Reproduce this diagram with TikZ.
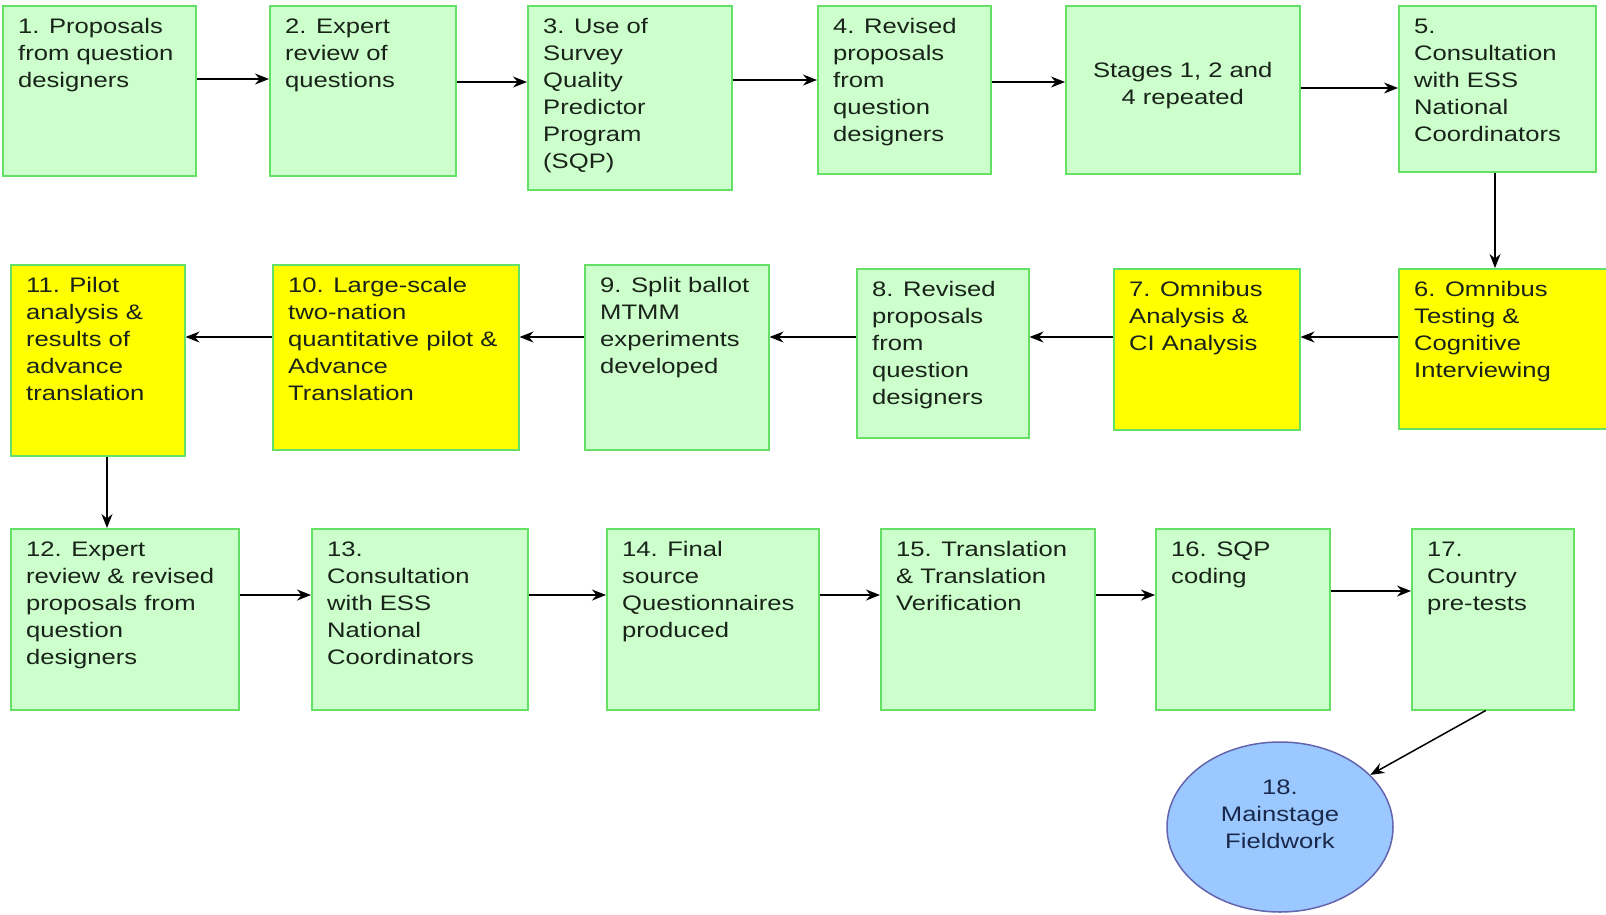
\documentclass[tikz,border=0pt]{standalone}
\usepackage{fontspec}
\setmainfont{Liberation Sans}[FakeStretch=1.22]
\usetikzlibrary{shapes.geometric,arrows.meta}
\definecolor{gfill}{RGB}{204,255,204}
\definecolor{gline}{RGB}{100,225,100}
\definecolor{yfill}{RGB}{255,255,0}
\definecolor{bfill}{RGB}{155,200,255}
\definecolor{bline}{RGB}{100,100,175}
\definecolor{txt}{RGB}{25,35,25}
\definecolor{btxt}{RGB}{25,40,75}
\newcommand\pbox[7]{\node[#6, anchor=north west, minimum width=#4pt-#2pt, minimum height=#5pt-#3pt, label={[lbl]north west:{#7}}] (#1) at (#2,#3) {};}
\begin{document}
\begin{tikzpicture}[x=1pt,y=-1pt,
  gbox/.style={draw=gline, line width=1.5pt, fill=gfill, inner sep=0pt},
  ybox/.style={draw=gline, line width=1.5pt, fill=yfill, inner sep=0pt},
  lbl/.style={anchor=north west, align=left, inner xsep=16pt, inner ysep=13.5pt, text=txt, font=\fontsize{21}{27}\selectfont},
  arr/.style={line width=1.5pt, black, -{Stealth[length=14pt,width=11pt]}}]
\useasboundingbox (0,0) rectangle (1606,914);
% row 1
\pbox{n1}{2}{5}{195}{175}{gbox}{1. Proposals\\from question\\designers}
\pbox{n2}{269}{5}{455}{175}{gbox}{2. Expert\\review of\\questions}
\pbox{n3}{527}{5}{731}{189}{gbox}{3. Use of\\Survey\\Quality\\Predictor\\Program\\(SQP)}
\pbox{n4}{817}{5}{990}{173}{gbox}{4. Revised\\proposals\\from\\question\\designers}
\node[gbox, anchor=north west, minimum width=234pt, minimum height=168pt,
  label={[text=txt, align=center, font=\fontsize{21}{27}\selectfont, yshift=4pt]center:{Stages 1, 2 and\\4 repeated}}] (ns) at (1065,5) {};
\pbox{n5}{1398}{5}{1595}{171}{gbox}{5.\\Consultation\\with ESS\\National\\Coordinators}
% row 2
\pbox{n11}{10}{264}{184}{455}{ybox}{11. Pilot\\analysis \&\\results of\\advance\\translation}
\pbox{n10}{272}{264}{518}{449}{ybox}{10. Large-scale\\two-nation\\quantitative pilot \&\\Advance\\Translation}
\pbox{n9}{584}{264}{768}{449}{gbox}{9. Split ballot\\MTMM\\experiments\\developed}
\pbox{n8}{856}{268}{1028}{437}{gbox}{8. Revised\\proposals\\from\\question\\designers}
\pbox{n7}{1113}{268}{1299}{429}{ybox}{7. Omnibus\\Analysis \&\\CI Analysis}
\pbox{n6}{1398}{268}{1606}{428}{ybox}{6. Omnibus\\Testing \&\\Cognitive\\Interviewing}
% row 3
\pbox{n12}{10}{528}{238}{709}{gbox}{12. Expert\\review \& revised\\proposals from\\question\\designers}
\pbox{n13}{311}{528}{527}{709}{gbox}{13.\\Consultation\\with ESS\\National\\Coordinators}
\pbox{n14}{606}{528}{818}{709}{gbox}{14. Final\\source\\Questionnaires\\produced}
\pbox{n15}{880}{528}{1094}{709}{gbox}{15. Translation\\\& Translation\\Verification}
\pbox{n16}{1155}{528}{1329}{709}{gbox}{16. SQP\\coding}
\pbox{n17}{1411}{528}{1573}{709}{gbox}{17.\\Country\\pre-tests}
\node[ellipse, draw=bline, line width=1.5pt, fill=bfill, minimum width=226pt, minimum height=170pt,
  label={[text=btxt, align=center, font=\fontsize{21}{27}\selectfont, yshift=13pt]center:{18.\\Mainstage\\Fieldwork}}] (n18) at (1280,827) {};
% arrows row 1
\draw[arr] (n1.east |- 0,79) -- (n2.west |- 0,79);
\draw[arr] (n2.east |- 0,82) -- (n3.west |- 0,82);
\draw[arr] (n3.east |- 0,80) -- (n4.west |- 0,80);
\draw[arr] (n4.east |- 0,82) -- (ns.west |- 0,82);
\draw[arr] (ns.east |- 0,88) -- (n5.west |- 0,88);
\draw[arr] (n5.south -| 1495,0) -- (n6.north -| 1495,0);
% arrows row 2
\draw[arr] (n6.west |- 0,337) -- (n7.east |- 0,337);
\draw[arr] (n7.west |- 0,337) -- (n8.east |- 0,337);
\draw[arr] (n8.west |- 0,337) -- (n9.east |- 0,337);
\draw[arr] (n9.west |- 0,337) -- (n10.east |- 0,337);
\draw[arr] (n10.west |- 0,337) -- (n11.east |- 0,337);
\draw[arr] (n11.south -| 107,0) -- (n12.north -| 107,0);
% arrows row 3
\draw[arr] (n12.east |- 0,595) -- (n13.west |- 0,595);
\draw[arr] (n13.east |- 0,595) -- (n14.west |- 0,595);
\draw[arr] (n14.east |- 0,595) -- (n15.west |- 0,595);
\draw[arr] (n15.east |- 0,595) -- (n16.west |- 0,595);
\draw[arr] (n16.east |- 0,591) -- (n17.west |- 0,591);
\draw[arr] ([xshift=-7pt]n17.south) -- (n18.30);
\end{tikzpicture}
\end{document}
